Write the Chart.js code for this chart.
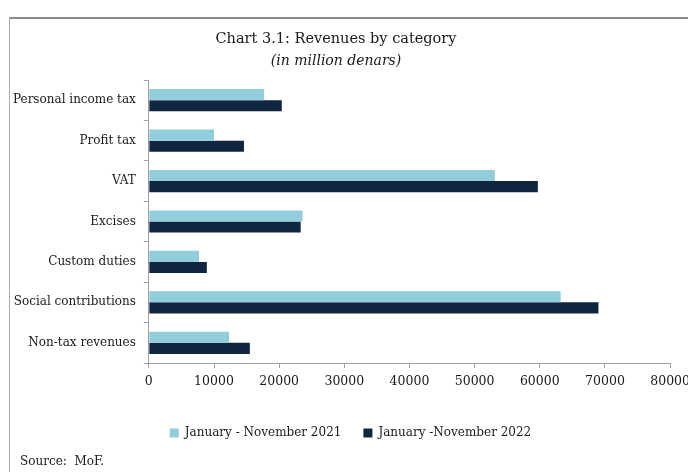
<!DOCTYPE html>
<html>
<head>
<meta charset="utf-8">
<script src="https://cdn.jsdelivr.net/npm/chart.js@4.4.1/dist/chart.umd.min.js"></script>
<style>
  html, body { margin: 0; padding: 0; background: #fff; }
  #wrap { position: relative; width: 688px; height: 472px; overflow: hidden; }
  #frame {
    position: absolute; left: 9px; top: 17px; right: -5px; bottom: -5px;
    border-top: 2px solid #8c8c8c; border-left: 1px solid #ababab;
  }
  #chart { position: absolute; left: 0; top: 0; }
  .txt {
    position: absolute; font-family: "DejaVu Serif", serif; color: #1a1a1a;
    white-space: pre; line-height: 1;
  }
  #title { left: 0; width: 672px; text-align: center; top: 31px; font-size: 14.5px; }
  #subtitle { left: 0; width: 672px; text-align: center; top: 53px; font-size: 14px; font-style: italic; }
  #source { left: 20px; top: 455px; font-size: 12px; }
</style>
</head>
<body>
<div id="wrap">
  <div id="frame"></div>
  <canvas id="chart" width="696" height="472"></canvas>
  <div class="txt" id="title">Chart 3.1: Revenues by category</div>
  <div class="txt" id="subtitle">(in million denars)</div>
  <div class="txt" id="source">Source:  MoF.</div>
</div>
<script>
const categories = [
  "Personal income tax",
  "Profit tax",
  "VAT",
  "Excises",
  "Custom duties",
  "Social contributions",
  "Non-tax revenues",
];
const revenues2021 = [17700, 10000, 53100, 23600, 7700, 63200, 12300];
const revenues2022 = [20400, 14600, 59700, 23300, 8900, 69000, 15500];
const seriesNames = ["January - November 2021", "January -November 2022"];
const xTicks = [0, 10000, 20000, 30000, 40000, 50000, 60000, 70000, 80000];

const serif = "'DejaVu Serif', serif";
const axisColor = "#a0a0a0";

new Chart(document.getElementById("chart"), {
  type: "bar",
  data: {
    labels: categories,
    datasets: [
      {
        label: seriesNames[0],
        data: revenues2021,
        backgroundColor: "#92CDDC",
        borderWidth: 0,
      },
      {
        label: seriesNames[1],
        data: revenues2022,
        backgroundColor: "#10253F",
        borderWidth: 0,
      },
    ],
  },
  options: {
    indexAxis: "y",
    responsive: false,
    animation: false,
    devicePixelRatio: 1,
    categoryPercentage: 0.55,
    barPercentage: 1,
    layout: { padding: { top: 80, left: 5, right: 0, bottom: 23 } },
    plugins: {
      title: { display: false },
      legend: {
        position: "bottom",
        labels: {
          color: "#1a1a1a",
          font: { family: serif, size: 12 },
          boxWidth: 9,
          boxHeight: 9,
          padding: 22,
        },
      },
      tooltip: { enabled: false },
    },
    scales: {
      x: {
        min: 0,
        max: 80000,
        afterBuildTicks: (scale) => {
          scale.ticks = xTicks.map((v) => ({ value: v }));
        },
        afterFit: (scale) => {
          scale.height = 42;
        },
        ticks: {
          color: "#1a1a1a",
          font: { family: serif, size: 12.5 },
          padding: 6,
          maxRotation: 0,
          callback: (v) => String(v),
        },
        grid: {
          drawOnChartArea: false,
          drawTicks: true,
          tickLength: 5,
          color: axisColor,
        },
        border: { display: true, color: axisColor },
      },
      y: {
        ticks: {
          color: "#1a1a1a",
          font: { family: serif, size: 12 },
          padding: 8,
        },
        grid: {
          drawOnChartArea: false,
          drawTicks: true,
          tickLength: 5,
          color: axisColor,
        },
        border: { display: true, color: axisColor },
      },
    },
  },
});
</script>
</body>
</html>
